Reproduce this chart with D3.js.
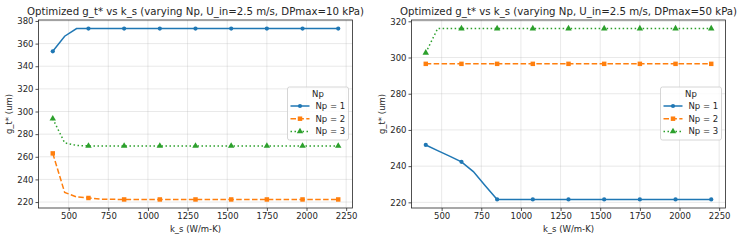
<!DOCTYPE html>
<html>
<head>
<meta charset="utf-8">
<script src="https://cdn.jsdelivr.net/npm/d3@7"></script>
<style>
  body { margin: 0; background: #fff; }
  text { font-family: "DejaVu Sans", sans-serif; fill: #262626; }
</style>
</head>
<body>
<div id="chart"></div>
<script>

// k_s values (markers every 3rd point)
var ks = [400, 475, 550, 625, 700, 775, 850, 925, 1000, 1075, 1150, 1225, 1300,
          1375, 1450, 1525, 1600, 1675, 1750, 1825, 1900, 1975, 2050, 2125, 2200];

// DPmax = 10 kPa
var np1_10 = [353.2, 366.5, 373.3, 373.3, 373.3, 373.3, 373.3, 373.3, 373.3, 373.3, 373.3, 373.3, 373.3,
              373.3, 373.3, 373.3, 373.3, 373.3, 373.3, 373.3, 373.3, 373.3, 373.3, 373.3, 373.3];
var np2_10 = [263.0, 228.5, 224.5, 223.6, 222.6, 222.4, 222.3, 222.3, 222.3, 222.3, 222.3, 222.3, 222.3,
              222.3, 222.3, 222.3, 222.3, 222.3, 222.3, 222.3, 222.3, 222.3, 222.3, 222.3, 222.3];
var np3_10 = [293.6, 272.3, 270.0, 269.6, 269.6, 269.6, 269.6, 269.6, 269.6, 269.6, 269.6, 269.6, 269.6,
              269.6, 269.6, 269.6, 269.6, 269.6, 269.6, 269.6, 269.6, 269.6, 269.6, 269.6, 269.6];

// DPmax = 50 kPa
var np1_50 = [251.7, 248.6, 245.5, 242.4, 237.0, 229.2, 221.6, 221.6, 221.6, 221.6, 221.6, 221.6, 221.6,
              221.6, 221.6, 221.6, 221.6, 221.6, 221.6, 221.6, 221.6, 221.6, 221.6, 221.6, 221.6];
var np2_50 = [296.5, 296.5, 296.5, 296.5, 296.5, 296.5, 296.5, 296.5, 296.5, 296.5, 296.5, 296.5, 296.5,
              296.5, 296.5, 296.5, 296.5, 296.5, 296.5, 296.5, 296.5, 296.5, 296.5, 296.5, 296.5];
var np3_50 = [302.6, 316.0, 316.0, 316.0, 316.0, 316.0, 316.0, 316.0, 316.0, 316.0, 316.0, 316.0, 316.0,
              316.0, 316.0, 316.0, 316.0, 316.0, 316.0, 316.0, 316.0, 316.0, 316.0, 316.0, 316.0];

var seriesNames = ["Np = 1", "Np = 2", "Np = 3"];
var xTicks = [500, 750, 1000, 1250, 1500, 1750, 2000, 2250];
var yTicks10 = [220, 240, 260, 280, 300, 320, 340, 360, 380];
var yTicks50 = [220, 240, 260, 280, 300, 320];

var colors = ["#1f77b4", "#ff7f0e", "#2ca02c"];
var dashes = [null, "5.5,2.4", "1.5,2.5"];
var symbols = [d3.symbolCircle, d3.symbolSquare, d3.symbolTriangle];
var symSize = [14, 20, 18];

var W = 744, H = 240;
var svg = d3.select("#chart").append("svg")
    .attr("width", W).attr("height", H);

function panel(left, title, data, yTicks) {
  var x0 = left, x1 = left + 314, y0 = 20, y1 = 208;

  var all = [].concat(data[0], data[1], data[2]);
  var lo = d3.min(all), hi = d3.max(all), pad = (hi - lo) * 0.05;
  var x = d3.scaleLinear().domain([310, 2290]).range([x0, x1]);
  var y = d3.scaleLinear().domain([lo - pad, hi + pad]).range([y1, y0]);

  var g = svg.append("g");

  // grid
  g.selectAll(".gx").data(xTicks).enter().append("line")
    .attr("x1", function(d) { return x(d) }).attr("x2", function(d) { return x(d) })
    .attr("y1", y0).attr("y2", y1)
    .attr("stroke", "#b0b0b0").attr("stroke-opacity", 0.35).attr("stroke-width", 0.8);
  g.selectAll(".gy").data(yTicks).enter().append("line")
    .attr("x1", x0).attr("x2", x1)
    .attr("y1", function(d) { return y(d) }).attr("y2", function(d) { return y(d) })
    .attr("stroke", "#b0b0b0").attr("stroke-opacity", 0.35).attr("stroke-width", 0.8);

  // axes
  var ax = g.append("g").attr("transform", "translate(0," + y1 + ")")
    .call(d3.axisBottom(x).tickValues(xTicks).tickFormat(d3.format("d")).tickSize(3).tickPadding(2));
  var ay = g.append("g").attr("transform", "translate(" + x0 + ",0)")
    .call(d3.axisLeft(y).tickValues(yTicks).tickFormat(d3.format("d")).tickSize(3).tickPadding(2));
  [ax, ay].forEach(function(a) {
    a.select(".domain").remove();
    a.selectAll("line").attr("stroke", "#262626").attr("stroke-width", 0.8);
    a.selectAll("text").style("font-size", "8.5px").attr("fill", "#262626")
      .style("font-family", "DejaVu Sans");
  });

  g.append("rect").attr("x", x0).attr("y", y0)
    .attr("width", x1 - x0).attr("height", y1 - y0)
    .attr("fill", "none").attr("stroke", "#262626").attr("stroke-width", 0.8);

  // lines and markers
  data.forEach(function(vals, i) {
    var pts = ks.map(function(k, j) { return [k, vals[j]] });
    g.append("path").datum(pts)
      .attr("fill", "none").attr("stroke", colors[i]).attr("stroke-width", 1.5)
      .attr("stroke-dasharray", dashes[i])
      .attr("d", d3.line().x(function(d) { return x(d[0]) }).y(function(d) { return y(d[1]) }));
    g.selectAll(".m" + i).data(pts.filter(function(d, j) { return j % 3 === 0 }))
      .enter().append("path")
      .attr("transform", function(d) { return "translate(" + x(d[0]) + "," + y(d[1]) + ")" })
      .attr("d", d3.symbol().type(symbols[i]).size(symSize[i]))
      .attr("fill", colors[i]);
  });

  // labels
  g.append("text").attr("x", (x0 + x1) / 2).attr("y", 15)
    .attr("text-anchor", "middle").style("font-size", "10.2px").text(title);
  g.append("text").attr("x", (x0 + x1) / 2).attr("y", 232)
    .attr("text-anchor", "middle").style("font-size", "8.5px").text("k_s (W/m-K)");
  g.append("text").attr("transform", "translate(" + (x0 - 27) + "," + ((y0 + y1) / 2) + ") rotate(-90)")
    .attr("text-anchor", "middle").style("font-size", "8.5px").text("g_t* (um)");

  // legend
  var lx = x1 - 65, ly = 87;
  var leg = g.append("g").attr("transform", "translate(" + lx + "," + ly + ")");
  leg.append("rect").attr("width", 61).attr("height", 53).attr("rx", 2)
    .attr("fill", "#fff").attr("fill-opacity", 0.8)
    .attr("stroke", "#cccccc").attr("stroke-width", 0.8);
  leg.append("text").attr("x", 30.5).attr("y", 10).attr("text-anchor", "middle")
    .style("font-size", "8.5px").text("Np");
  seriesNames.forEach(function(name, i) {
    var yy = 19 + i * 12.7;
    leg.append("line").attr("x1", 3).attr("x2", 22).attr("y1", yy).attr("y2", yy)
      .attr("stroke", colors[i]).attr("stroke-width", 1.5).attr("stroke-dasharray", dashes[i]);
    leg.append("path").attr("transform", "translate(12.5," + yy + ")")
      .attr("d", d3.symbol().type(symbols[i]).size(symSize[i])).attr("fill", colors[i]);
    leg.append("text").attr("x", 28).attr("y", yy + 3)
      .style("font-size", "8.5px").text(name);
  });
}

panel(38.5, "Optimized g_t* vs k_s (varying Np, U_in=2.5 m/s, DPmax=10 kPa)", [np1_10, np2_10, np3_10], yTicks10);
panel(411.5, "Optimized g_t* vs k_s (varying Np, U_in=2.5 m/s, DPmax=50 kPa)", [np1_50, np2_50, np3_50], yTicks50);

</script>
</body>
</html>
